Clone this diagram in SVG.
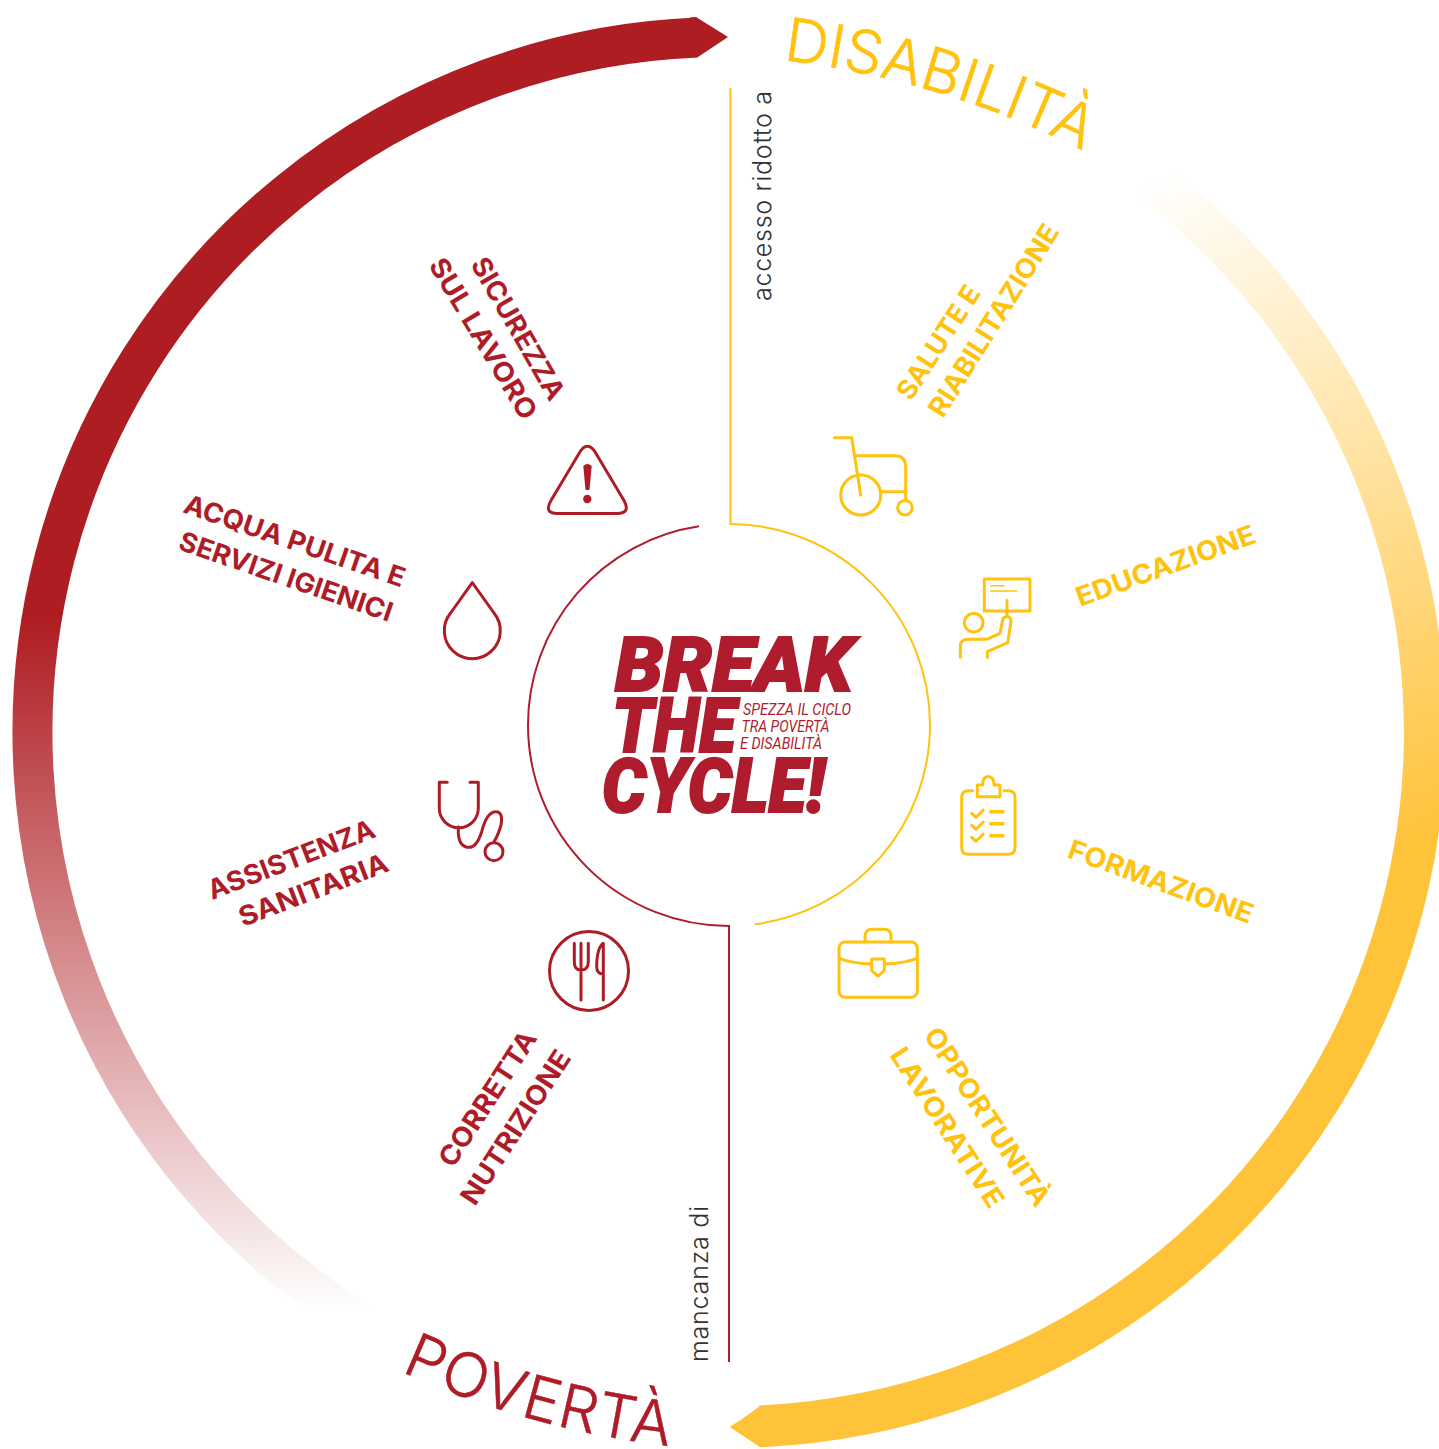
<svg xmlns="http://www.w3.org/2000/svg" width="1439" height="1449" viewBox="0 0 1439 1449">
<style>
.lbl{font-family:Inter,Roboto,"Liberation Sans",sans-serif;font-weight:700;font-size:27px}
.r{fill:#ae1c28}.y{fill:#ffc20e}
.ir{fill:none;stroke:#ae1c28;stroke-width:3;stroke-linecap:round;stroke-linejoin:round}
.iy{fill:none;stroke:#ffc20e;stroke-width:3;stroke-linecap:round;stroke-linejoin:round}
.thin{font-family:Inter,Roboto,sans-serif;font-weight:300;fill:#333}
.big{font-family:Inter,Roboto,sans-serif;font-weight:300;stroke-width:.5}
.head{font-family:Roboto,"Liberation Sans",sans-serif;font-weight:900;font-style:italic;fill:#ae1c2e;stroke:#ae1c2e;stroke-width:2;font-size:76px}
.sub{font-family:Roboto,"Liberation Sans",sans-serif;font-weight:400;font-style:italic;fill:#ae1c2e;font-size:16.5px}
</style>
<defs>
<linearGradient id="gr" gradientUnits="userSpaceOnUse" x1="0" y1="620" x2="0" y2="1312">
<stop offset="0" stop-color="#ae1d22"/><stop offset="1" stop-color="#ae1d22" stop-opacity="0"/>
</linearGradient>
<linearGradient id="gy" gradientUnits="userSpaceOnUse" x1="1150" y1="180" x2="1400" y2="850">
<stop offset="0" stop-color="#ffc33a" stop-opacity="0"/><stop offset="1" stop-color="#ffc33a"/>
</linearGradient>
<path id="pd" d="M777,59.6 A900,900 0 0 1 1180,207.7"/>
<path id="pp" d="M400,1371 A900,900 0 0 0 800,1451.6"/>
</defs>
<g id="connectors">
<path d="M697,37.6 A693,695 0 0 0 364,1325" fill="none" stroke="url(#gr)" stroke-width="40"/>
<polygon points="690,17.6 696,17 728,37 698,57 690,57.6" fill="#ae1d22"/>
<path d="M1150,179 A697,695 0 0 1 760,1426.3" fill="none" stroke="url(#gy)" stroke-width="42"/>
<polygon points="730,1427 760,1447 766,1447 766,1408 760,1407" fill="#ffc20e"/>
<polygon points="733,1426 760,1406 766,1406 766,1446 757,1445" fill="#ffc33a"/>
<path d="M730.5,88 V524 A201,201 0 0 1 930,725 A201,201 0 0 1 755,924.3" fill="none" stroke="#ffc20e" stroke-width="2"/>
<path d="M699,526.3 A201,201 0 0 0 528,725 A201,201 0 0 0 729,926 V1362" fill="none" stroke="#ae1c2e" stroke-width="2"/>
<text class="thin" font-size="25" transform="translate(771,301) rotate(-90)" textLength="210">accesso ridotto a</text>
<text class="thin" font-size="25" transform="translate(708,1362) rotate(-90)" textLength="156">mancanza di</text>
</g>
<g id="title-disabilita"><text class="big y" stroke="#ffc20e" font-size="60"><textPath href="#pd" startOffset="6">DISABILITÀ</textPath></text></g>
<g id="title-poverta"><text class="big r" stroke="#ae1c28" font-size="61" letter-spacing="1"><textPath href="#pp" startOffset="1">POVERTÀ</textPath></text></g>
<g id="center">
<text class="head" x="615" y="690.5" textLength="238" lengthAdjust="spacingAndGlyphs">BREAK</text>
<text class="head" x="612" y="751.5" textLength="124" lengthAdjust="spacingAndGlyphs">THE</text>
<text class="head" x="602" y="812" textLength="223" lengthAdjust="spacingAndGlyphs">CYCLE!</text>
<text class="sub" x="743" y="715" textLength="108" lengthAdjust="spacingAndGlyphs">SPEZZA IL CICLO</text>
<text class="sub" x="741.5" y="732" textLength="88" lengthAdjust="spacingAndGlyphs">TRA POVERTÀ</text>
<text class="sub" x="740" y="749" textLength="82" lengthAdjust="spacingAndGlyphs">E DISABILITÀ</text>
</g>
<g id="salute">
<path class="iy" d="M834.5,437.7 H851.7 L860.7,495 M855,455.7 H895 Q905.7,455.7 905.7,467 V500 M881.7,491.7 H905"/>
<circle class="iy" cx="860.7" cy="495" r="20"/><circle class="iy" cx="905" cy="507.7" r="7.3"/>
<text class="lbl y" transform="translate(911,402) rotate(-57)" textLength="130" lengthAdjust="spacingAndGlyphs">SALUTE E</text>
<text class="lbl y" transform="translate(943,419) rotate(-58)" textLength="221" lengthAdjust="spacingAndGlyphs">RIABILITAZIONE</text>
</g>
<g id="educazione">
<rect class="iy" x="984.3" y="579" width="45.7" height="32"/>
<path class="iy" style="stroke-width:1.6" d="M990.7,585.7 H1004 M990.7,591 H1016.7"/>
<path class="iy" d="M1007,600.3 V616.5 M960.3,657.3 V646.7 Q960.3,639.3 968.3,639.3 H986.7 L1000,633.3 L1002.3,621.7 Q1003,616.5 1007,616.5 Q1011,616.5 1011,621.7 L1007.7,642.7 L987.3,651.7 V657.3"/>
<circle class="iy" cx="973.7" cy="622.7" r="9.3"/>
<text class="lbl y" transform="translate(1080,607) rotate(-20)" textLength="189" lengthAdjust="spacingAndGlyphs">EDUCAZIONE</text>
</g>
<g id="formazione">
<path class="iy" d="M972.7,790.7 H968.3 Q961.7,790.7 961.7,797.3 V847.3 Q961.7,854.3 968.3,854.3 H1008.3 Q1015,854.3 1015,847.3 V797.3 Q1015,790.7 1008.3,790.7 H1004 M977.3,796.7 H1000 V785 H994 Q994,776.5 988.3,776.5 Q982.7,776.5 982.7,785 H977.3 Z M971.7,813.3 L976,817.3 L983.3,810 M971.7,825.3 L976,829.3 L983.3,822 M971.7,837.3 L976,841.3 L983.3,834"/>
<path class="iy" style="stroke-linecap:butt;stroke-width:3.5" d="M989.3,811.7 H1004.3 M989.3,823.7 H1004.3 M989.3,835.7 H1004.3"/>
<text class="lbl y" transform="translate(1066,857) rotate(20)" textLength="195" lengthAdjust="spacingAndGlyphs">FORMAZIONE</text>
</g>
<g id="opportunita">
<rect class="iy" x="839" y="942" width="78.3" height="55.3" rx="6"/>
<path class="iy" d="M865,942 V936.7 Q865,929.3 872.3,929.3 H884.3 Q891,929.3 891,936.7 V942 M839,958.3 Q853,963.5 871.7,964 M884.3,964 Q903,963.5 917.3,958.3 M871.7,959 H884.3 V970.7 L878,976 L871.7,970.7 Z"/>
<text class="lbl y" transform="translate(923,1035) rotate(57)" textLength="207" lengthAdjust="spacingAndGlyphs">OPPORTUNITÀ</text>
<text class="lbl y" transform="translate(889,1055) rotate(57)" textLength="185" lengthAdjust="spacingAndGlyphs">LAVORATIVE</text>
</g>
<g id="sicurezza">
<path class="ir" d="M580.5,451 Q587.3,441.5 594.5,451 L624,500.5 Q631,513.5 617,513.5 H557.5 Q543.5,513.5 551,500.5 Z"/>
<path class="r" d="M583.3,466 Q587.3,462 591.7,466 L589.5,490 H585.5 Z"/><circle class="r" cx="587.3" cy="499" r="4.2"/>
<text class="lbl r" transform="translate(470,264) rotate(60)" textLength="160" lengthAdjust="spacingAndGlyphs">SICUREZZA</text>
<text class="lbl r" transform="translate(428,265) rotate(59)" textLength="183" lengthAdjust="spacingAndGlyphs">SUL LAVORO</text>
</g>
<g id="acqua">
<path class="ir" d="M472.3,582.7 L494,613 A28,28 0 1 1 450.6,613 Z"/>
<text class="lbl r" transform="translate(182,512) rotate(19)" textLength="232" lengthAdjust="spacingAndGlyphs">ACQUA PULITA E</text>
<text class="lbl r" transform="translate(177,549) rotate(19)" textLength="224" lengthAdjust="spacingAndGlyphs">SERVIZI IGIENICI</text>
</g>
<g id="assistenza">
<path class="ir" d="M447.3,782.3 H439.3 V808.3 A19.5,19.5 0 0 0 478.3,808.3 V782.3 H470 M458.3,826.7 V833.3 Q459.3,847.3 469.3,847.3 Q476.7,847.3 481.7,831.7 Q486.7,811.7 496,811.7 Q503.3,811.7 501,825 Q498.3,835 494,841.7"/>
<circle class="ir" cx="494" cy="851.7" r="9"/>
<text class="lbl r" transform="translate(212,900) rotate(-21)" textLength="177" lengthAdjust="spacingAndGlyphs">ASSISTENZA</text>
<text class="lbl r" transform="translate(243,927) rotate(-21)" textLength="158" lengthAdjust="spacingAndGlyphs">SANITARIA</text>
</g>
<g id="nutrizione">
<circle class="ir" cx="589" cy="971" r="39.5"/>
<path class="ir" d="M574.3,943.3 V961.7 Q574.3,970 581,970 Q588.3,970 588.3,961.7 V943.3 M581,943.3 V1000 M603.3,1000 V943.3 Q596.7,948.3 596.7,966.7 Q596.7,974 603.3,974"/>
<text class="lbl r" transform="translate(453,1169) rotate(-57)" textLength="156" lengthAdjust="spacingAndGlyphs">CORRETTA</text>
<text class="lbl r" transform="translate(475,1207) rotate(-57)" textLength="178" lengthAdjust="spacingAndGlyphs">NUTRIZIONE</text>
</g>
</svg>
